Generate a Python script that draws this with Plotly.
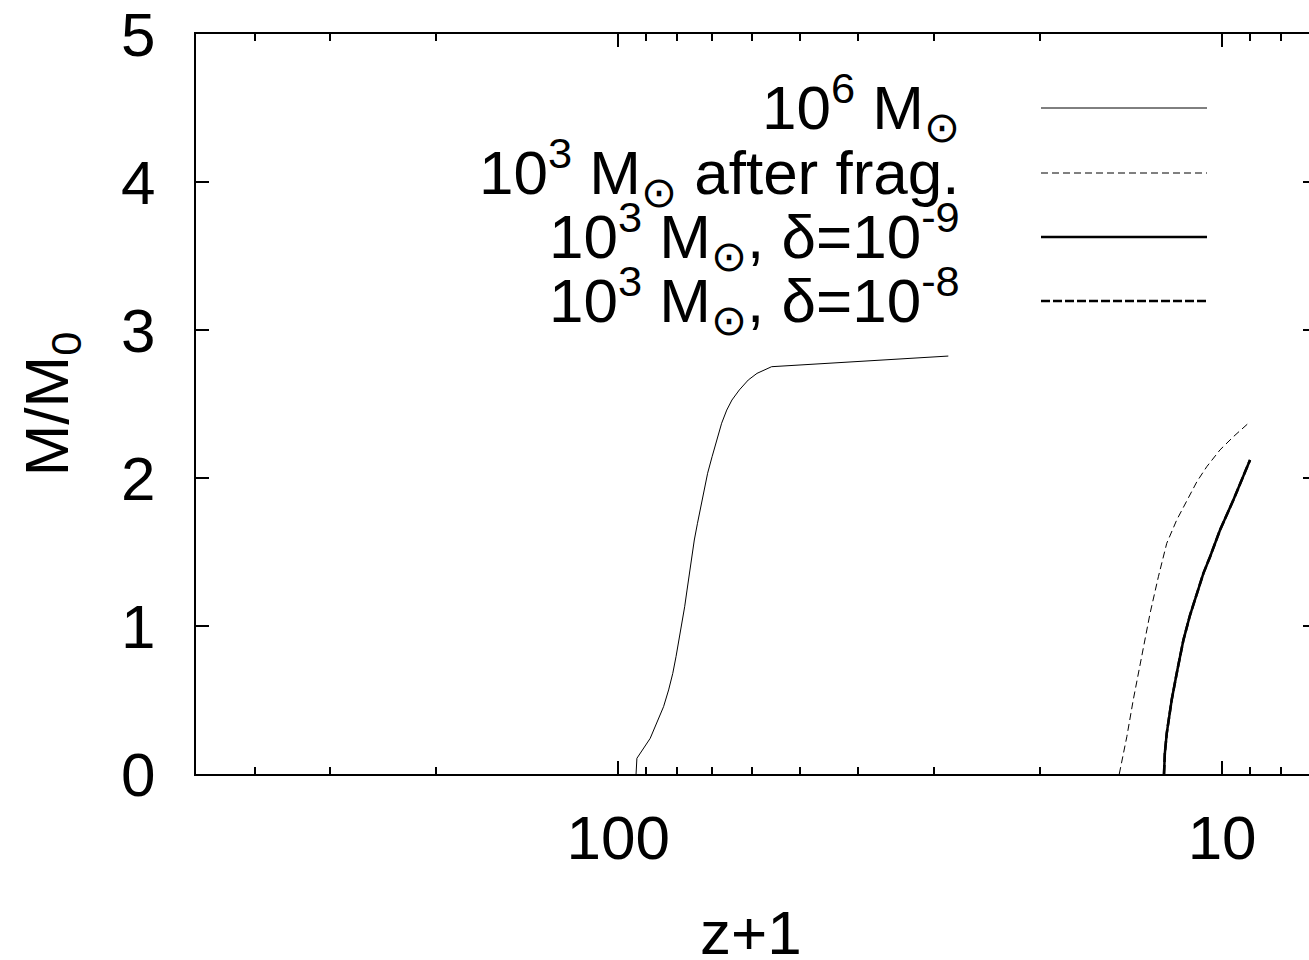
import numpy as np
import plotly.graph_objects as go

# ---- data ----
zp1_1e6 = [93.4, 93.1, 88.5, 86.3, 84.1, 82.5, 81.2, 80.2, 79.3, 78.3, 77.6, 76.9, 76.2, 75.5,
           74.8, 73.9, 72.9, 72.0, 71.1, 69.9, 68.7, 67.4, 66.1, 64.8, 63.0, 60.9, 58.9, 57.4,
           55.7, 28.4]
m_1e6 = [0.0, 0.106, 0.241, 0.342, 0.455, 0.568, 0.680, 0.793, 0.905, 1.018, 1.130, 1.243, 1.356,
         1.468, 1.581, 1.694, 1.806, 1.919, 2.032, 2.144, 2.257, 2.370, 2.459, 2.527, 2.595, 2.662,
         2.707, 2.730, 2.752, 2.824]

zp1_frag = [14.80, 14.38, 14.03, 13.58, 13.16, 12.75, 12.35, 11.89, 11.44, 11.01, 10.60, 10.08, 9.58, 8.99]
m_frag = [0.0, 0.252, 0.502, 0.792, 1.086, 1.333, 1.559, 1.716, 1.851, 1.975, 2.077, 2.190, 2.279, 2.380]

zp1_d9 = [12.48, 12.44, 12.35, 12.12, 11.86, 11.59, 11.30, 11.01, 10.74, 10.47, 10.08, 9.58, 9.28, 8.99]
m_d9 = [0.0, 0.14, 0.275, 0.50, 0.703, 0.905, 1.074, 1.221, 1.356, 1.468, 1.649, 1.851, 1.986, 2.122]

zp1_d8 = [12.48, 12.44, 12.35, 12.12, 11.86, 11.59, 11.30, 11.01, 10.74, 10.47, 10.08, 9.58, 9.28, 8.99]
m_d8 = [0.0, 0.14, 0.275, 0.50, 0.703, 0.905, 1.074, 1.221, 1.356, 1.468, 1.649, 1.851, 1.986, 2.122]

legend_labels = [
    "10<sup>6</sup> M<sub>⊙</sub>",
    "10<sup>3</sup> M<sub>⊙</sub> after frag.",
    "10<sup>3</sup> M<sub>⊙</sub>, δ=10<sup>-9</sup>",
    "10<sup>3</sup> M<sub>⊙</sub>, δ=10<sup>-8</sup>",
]
x_title = "z+1"
y_title = "M/M<sub>0</sub>"
x_major_ticks = [100, 10]
x_major_text = ["100", "10"]
x_minor_ticks = [400, 300, 200, 90, 80, 70, 60, 50, 40, 30, 20, 9, 8]
y_ticks = [0, 1, 2, 3, 4, 5]

FONT = "Liberation Sans, Arial, Helvetica, sans-serif"
FS = 62

styles = [
    dict(color="black", width=1),
    dict(color="black", width=1, dash="7px,4px"),
    dict(color="black", width=2.5),
    dict(color="black", width=2.5, dash="9px,3px"),
]
series = [(zp1_1e6, m_1e6), (zp1_frag, m_frag), (zp1_d9, m_d9), (zp1_d8, m_d8)]

fig = go.Figure()
for i, ((xs, ys), st) in enumerate(zip(series, styles)):
    fig.add_trace(go.Scatter(
        x=xs, y=ys, mode="lines", line=st, showlegend=False,
        yaxis="y2" if i == 3 else "y", hoverinfo="skip"))

# geometry (pixels) of the reference plot frame
W, H = 1309, 960
L, T, B = 196, 34, 186
plot_w = W - L
plot_h = H - T - B

def px_x(p):
    return (p - L) / plot_w

def px_y(p):
    return (H - B - p) / plot_h

# legend (gnuplot style: right-aligned text, sample line to the right)
row_y = [107, 172, 236, 300]
for lab, st, ry in zip(legend_labels, styles, row_y):
    fig.add_annotation(text=lab, xref="paper", yref="paper",
                       x=px_x(962), y=px_y(ry), xanchor="right", yanchor="middle",
                       showarrow=False, font=dict(family=FONT, size=FS, color="black"))
    fig.add_shape(type="line", xref="paper", yref="paper",
                  x0=px_x(1041), x1=px_x(1207), y0=px_y(ry + 1), y1=px_y(ry + 1),
                  line=st)

# x-axis title (partly cut by the bottom edge, as in the reference)
fig.add_annotation(text=x_title, xref="paper", yref="paper",
                   x=px_x(751), y=px_y(933), xanchor="center", yanchor="middle",
                   showarrow=False, font=dict(family=FONT, size=FS, color="black"))

xr = [np.log10(500), np.log10(7.18)]

fig.update_layout(
    width=W, height=H,
    margin=dict(l=L, r=0, t=T, b=B, pad=0, autoexpand=False),
    paper_bgcolor="white", plot_bgcolor="white",
    font=dict(family=FONT, size=FS, color="black"),
    xaxis=dict(
        type="log", range=xr, tickmode="array", tickvals=x_major_ticks, ticktext=x_major_text,
        ticks="inside", ticklen=13, tickwidth=2, tickcolor="black",
        showline=True, linewidth=2, linecolor="black", mirror="ticks",
        showgrid=False, zeroline=False, ticklabelstandoff=9, ticklabeloverflow="allow",
        tickfont=dict(family=FONT, size=FS), automargin=False,
        minor=dict(tickmode="array", tickvals=x_minor_ticks, ticks="inside", ticklen=7,
                   tickwidth=2, tickcolor="black", showgrid=False),
    ),
    yaxis=dict(
        range=[0, 5], tickmode="array", tickvals=y_ticks,
        ticks="inside", ticklen=13, tickwidth=2, tickcolor="black",
        showline=True, linewidth=2, linecolor="black", mirror=False,
        showgrid=False, zeroline=False, ticklabelstandoff=26, ticklabeloverflow="allow",
        tickfont=dict(family=FONT, size=FS), automargin=True,
        title=dict(text=y_title, font=dict(family=FONT, size=FS), standoff=32),
    ),
    yaxis2=dict(
        range=[0, 5], overlaying="y", side="right", tickmode="array", tickvals=y_ticks,
        ticks="inside", ticklen=6, tickwidth=2, tickcolor="black", automargin=False,
        showline=False, showgrid=False, zeroline=False, showticklabels=False,
    ),
)

fig.write_html("out.html")
